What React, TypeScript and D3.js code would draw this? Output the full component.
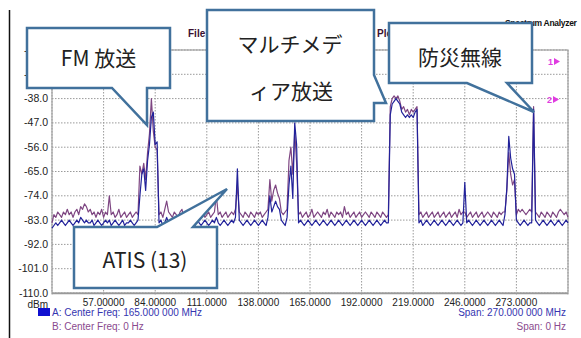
import React from "react";
import * as d3 from "d3";

const W = 581;
const H = 338;

// Frequency axis: 30 .. 300 MHz, one sample per MHz
const freqStart = 30;
const freqStep = 1;

// Trace B (purple)
const traceB: number[] = [
  -84, -81, -82, -80, -81, -82, -80, -81, -79, -81,
  -80, -82, -80, -79, -81, -78, -79, -77, -78, -80,
  -79, -81, -80, -82, -80, -81, -79, -82, -80, -81,
  -74, -81, -80, -82, -81, -79, -82, -81, -80, -82,
  -81, -80, -82, -81, -80, -81, -63, -66, -62, -68,
  -58, -51, -38, -50, -56, -57, -81, -80, -82, -79,
  -76, -80, -81, -82, -80, -81, -82, -80, -79, -82,
  -80, -81, -82, -81, -80, -82, -81, -83, -81, -80,
  -82, -81, -80, -82, -81, -80, -74, -81, -80, -82,
  -81, -80, -82, -81, -80, -81, -79, -70, -80, -81,
  -82, -80, -81, -82, -80, -81, -82, -80, -81, -80,
  -82, -81, -80, -79, -68, -76, -72, -70, -73, -75,
  -80, -81, -80, -79, -61, -56, -66, -50, -62, -81,
  -80, -82, -81, -80, -82, -81, -79, -82, -81, -80,
  -81, -82, -80, -81, -79, -82, -80, -81, -82, -80,
  -81, -80, -82, -78, -81, -80, -82, -81, -80, -82,
  -81, -80, -82, -81, -80, -81, -82, -80, -81, -82,
  -80, -81, -82, -80, -81, -82, -81, -41, -38, -37,
  -38, -37, -39, -42, -41, -43, -42, -44, -42, -43,
  -42, -41, -81, -80, -82, -81, -80, -82, -81, -80,
  -82, -81, -80, -82, -81, -80, -82, -81, -80, -82,
  -81, -80, -82, -79, -81, -80, -80, -82, -81, -80,
  -82, -81, -80, -82, -81, -80, -82, -81, -80, -81,
  -82, -80, -81, -82, -80, -81, -80, -80, -72, -58,
  -66, -70, -68, -81, -79, -80, -79, -80, -81, -80,
  -79, -80, -41, -80, -81, -82, -80, -81, -82, -80,
  -81, -82, -80, -81, -82, -80, -79, -80, -81, -80,
  -82,
];

// Trace A (blue)
const traceA: number[] = [
  -86, -85, -84, -85, -84, -83, -84, -85, -84, -83,
  -84, -85, -84, -83, -84, -82, -83, -84, -83, -84,
  -84, -83, -85, -84, -83, -84, -85, -84, -83, -84,
  -83, -85, -84, -83, -84, -85, -84, -83, -85, -84,
  -84, -83, -84, -85, -84, -83, -74, -66, -64, -72,
  -61, -55, -45, -43, -55, -54, -84, -83, -85, -84,
  -82, -84, -85, -84, -83, -84, -85, -84, -83, -84,
  -85, -84, -83, -84, -85, -84, -83, -84, -85, -84,
  -83, -84, -85, -84, -83, -84, -82, -84, -85, -84,
  -83, -84, -85, -84, -83, -84, -82, -64, -83, -84,
  -85, -84, -83, -84, -85, -84, -83, -84, -85, -84,
  -83, -84, -85, -82, -74, -80, -78, -76, -78, -79,
  -83, -84, -85, -82, -70, -63, -75, -47, -55, -84,
  -83, -84, -85, -84, -83, -84, -85, -84, -83, -84,
  -85, -84, -83, -84, -85, -84, -83, -84, -85, -84,
  -83, -84, -85, -84, -83, -84, -85, -84, -83, -84,
  -85, -84, -83, -84, -85, -84, -83, -84, -85, -84,
  -83, -84, -85, -84, -83, -84, -84, -44, -40, -39,
  -38, -39, -40, -43, -44, -45, -44, -45, -44, -45,
  -43, -42, -84, -83, -85, -84, -83, -84, -85, -84,
  -83, -84, -85, -84, -83, -84, -85, -84, -83, -84,
  -85, -84, -83, -84, -85, -84, -69, -84, -83, -84,
  -85, -84, -83, -84, -85, -84, -83, -84, -85, -84,
  -83, -84, -85, -84, -83, -84, -85, -81, -71, -52,
  -60, -64, -66, -83, -84, -85, -84, -83, -84, -85,
  -84, -84, -42, -83, -84, -85, -84, -83, -84, -85,
  -84, -83, -84, -85, -84, -83, -84, -85, -84, -83,
  -84,
];

const yTickValues = [-20, -29, -38, -47, -56, -65, -74, -83, -92, -101, -110];
const yTickLabels = ["-20.0", "-29.0", "-38.0", "-47.0", "-56.0", "-65.0", "-74.0", "-83.0", "-92.0", "-101.0", "-110.0"];
const xTickValues = [57, 84, 111, 138, 165, 192, 219, 246, 273];
const xTickLabels = ["57.00000", "84.00000", "111.0000", "138.0000", "165.0000", "192.0000", "219.0000", "246.0000", "273.0000"];

const legendA = "A: Center Freq: 165.000 000 MHz";
const legendB = "B: Center Freq: 0 Hz";
const spanA = "Span: 270.000 000 MHz";
const spanB = "Span: 0 Hz";

const calloutStroke = "#41719c";
const blue = "#22229a";
const purple = "#7e4682";
const magenta = "#e03ce0";

export default function App() {
  const x = d3.scaleLinear().domain([30, 300]).range([52, 568]);
  const y = d3.scaleLinear().domain([-110, -20]).range([293, 50]);

  const line = d3
    .line<number>()
    .x((_, i) => x(freqStart + i * freqStep))
    .y((d) => y(d));

  const gridX = d3.range(0, 11).map((i) => 30 + i * 27);
  const font = "'Liberation Sans', Arial, sans-serif";
  const jp = "'Noto Sans CJK JP', sans-serif";

  return (
    <svg
      width={W}
      height={H}
      style={{ position: "absolute", left: 0, top: 0, background: "#fff" }}
    >
      <rect x={0} y={0} width={W} height={H} fill="#fff" />
      <line x1={9.5} y1={10} x2={9.5} y2={H} stroke="#111" strokeWidth={1.5} />

      {/* header texts */}
      <text x={188} y={37} fontFamily={font} fontSize={10} fontWeight="bold" fill="#3a1030">File</text>
      <text x={377} y={37} fontFamily={font} fontSize={10} fontWeight="bold" fill="#3a1030">Plot</text>
      <text x={505} y={26} fontFamily={font} fontSize={8.5} fontWeight="bold" fill="#111" letterSpacing={-0.3}>Spectrum Analyzer</text>

      {/* grid */}
      {yTickValues.map((v) => (
        <line key={"gy" + v} x1={x(30)} x2={x(300)} y1={y(v)} y2={y(v)} stroke="#9a9a9a" strokeWidth={1} strokeDasharray="1.5,1.5" />
      ))}
      {gridX.map((v) => (
        <line key={"gx" + v} x1={x(v)} x2={x(v)} y1={y(-20)} y2={y(-110) + 3} stroke="#9a9a9a" strokeWidth={1} strokeDasharray="1.5,1.5" />
      ))}
      <rect x={x(30)} y={y(-20)} width={x(300) - x(30)} height={y(-110) - y(-20)} fill="none" stroke="#a0a0a0" strokeWidth={1.2} />
      <line x1={x(30)} x2={x(300)} y1={y(-110) + 0.5} y2={y(-110) + 0.5} stroke="#999" strokeWidth={1.5} />

      {/* traces */}
      <path d={line(traceB) || ""} fill="none" stroke={purple} strokeWidth={1.2} strokeLinejoin="round" />
      <path d={line(traceA) || ""} fill="none" stroke={blue} strokeWidth={1.2} strokeLinejoin="round" />

      {/* y labels */}
      {yTickValues.map((v, i) => (
        <text key={"yl" + v} x={48} y={y(v) + 3.5} textAnchor="end" fontFamily={font} fontSize={10.5} fill="#222">
          {yTickLabels[i]}
        </text>
      ))}
      <text x={48} y={307.5} textAnchor="end" fontFamily={font} fontSize={10} fill="#222">dBm</text>
      {xTickValues.map((v, i) => (
        <text key={"xl" + v} x={x(v)} y={306} textAnchor="middle" fontFamily={font} fontSize={10} fill="#222">
          {xTickLabels[i]}
        </text>
      ))}

      {/* legend */}
      <rect x={38} y={308} width={12} height={8} fill="#1010d0" />
      <text x={52} y={316} fontFamily={font} fontSize={10} fill="#3535b0">{legendA}</text>
      <text x={52} y={330} fontFamily={font} fontSize={10} fill="#8a4a8e">{legendB}</text>
      <text x={566} y={316} textAnchor="end" fontFamily={font} fontSize={10} fill="#3535b0">{spanA}</text>
      <text x={566} y={330} textAnchor="end" fontFamily={font} fontSize={10} fill="#8a4a8e">{spanB}</text>

      {/* markers */}
      <text x={548} y={65} fontFamily={font} fontSize={9} fontWeight="bold" fill={magenta}>1</text>
      <path d="M554,58 L560,61.5 L554,65 Z" fill={magenta} />
      <text x={547} y={103} fontFamily={font} fontSize={9} fontWeight="bold" fill={magenta}>2</text>
      <path d="M553,96 L559,99.5 L553,103 Z" fill={magenta} />

      {/* callouts */}
      <path d="M27,28 H170 V88 H147 V125 L112,88 H27 Z" fill="#fff" stroke={calloutStroke} strokeWidth={2.5} strokeLinejoin="miter" />
      <text x={98.5} y={66} textAnchor="middle" fontFamily={jp} fontSize={21} fill="#222">FM 放送</text>

      <path d="M207,10 H374 V75 L386,103 L374,103 V121 H207 Z" fill="#fff" stroke={calloutStroke} strokeWidth={2.5} />
      <text x={290} y={52} textAnchor="middle" fontFamily={jp} fontSize={21} fill="#222">マルチメデ</text>
      <text x={291} y={99} textAnchor="middle" fontFamily={jp} fontSize={21} fill="#222">ィア放送</text>

      <path d="M389,23 H532 V83 H507 L534,112 L467,83 H389 Z" fill="#fff" stroke={calloutStroke} strokeWidth={2.5} />
      <text x={460} y={65} textAnchor="middle" fontFamily={jp} fontSize={21} fill="#222">防災無線</text>

      <path d="M74,227 H157 L227,189 L193,227 H217 V288 H74 Z" fill="#fff" stroke={calloutStroke} strokeWidth={2.5} />
      <text x={145} y={268} textAnchor="middle" fontFamily={jp} fontSize={21} fill="#222">ATIS (13)</text>
    </svg>
  );
}
